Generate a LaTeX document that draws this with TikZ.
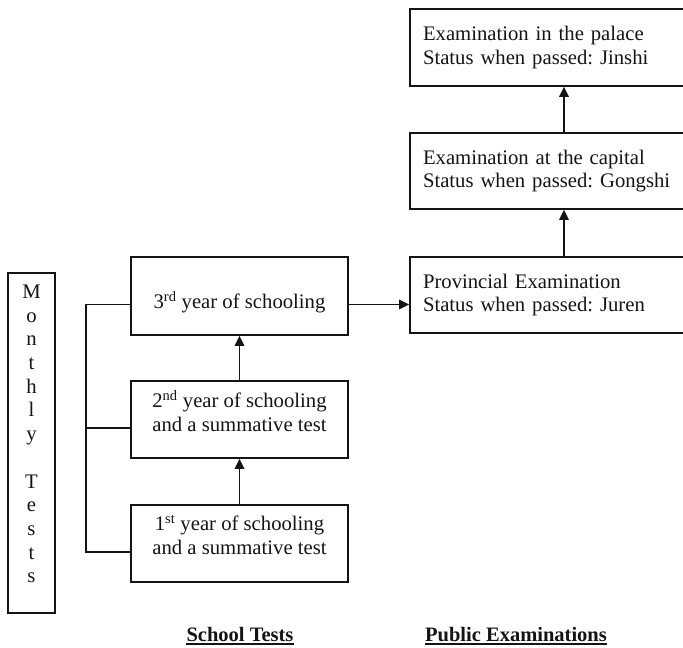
\documentclass[tikz,border=0pt]{standalone}
\usepackage{fontspec}
\setmainfont{Liberation Serif}
\usetikzlibrary{arrows.meta,calc}
\definecolor{ink}{HTML}{141414}
\frenchspacing
\begin{document}
\begin{tikzpicture}[x=1pt,y=-1pt,
  every node/.style={font=\fontsize{20.7}{23.5}\selectfont, text=ink},
  box/.style={draw=ink, line width=1.6pt, inner sep=0pt},
  sbox/.style={box, minimum width=217pt, minimum height=77pt, align=center},
  pbox/.style={box, minimum width=308pt, minimum height=77pt, text width=282pt, align=left},
  arr/.style={draw=ink, line width=1.7pt, -{Triangle[length=10pt,width=9.5pt]}},
  conn/.style={draw=ink, line width=1.6pt},
  lbl/.style={font=\fontsize{20.5}{23.5}\selectfont\bfseries, inner sep=0pt, anchor=base}]
\useasboundingbox (0,0) rectangle (683,648);
\clip (0,0) rectangle (683,648);

% Monthly tests
\node[box, minimum width=47pt, minimum height=340pt] (mt) at (31.5,443) {};
\node[align=center, inner sep=0pt, font=\fontsize{20.7}{23.7}\selectfont] (mtt) at (31.5,434)
  {M\\o\\n\\t\\h\\l\\y\\\mbox{}\\T\\e\\s\\t\\s};

% School tests
\node[sbox, minimum height=78pt] (b3) at (239.5,296) {\raisebox{-6pt}[\height][\depth]{3\textsuperscript{rd} year of schooling}};
\node[sbox] (b2) at (239.5,419.5) {2\textsuperscript{nd} year of schooling\\ and a summative test\\[-6pt]\mbox{}};
\node[sbox] (b1) at (239.5,543.5) {1\textsuperscript{st} year of schooling\\and a summative test\\[-6pt]\mbox{}};

% Public examinations
\node[pbox] (pal) at (564,47.5) {Examination in the palace\\Status when passed: Jinshi};
\node[pbox, minimum height=76pt] (cap) at (564,171) {Examination at the capital\\Status when passed: Gongshi};
\node[pbox, minimum height=76pt] (prov) at (564,295) {Provincial Examination\\Status when passed: Juren};

% bracket
\coordinate (bx) at (86,0);
\coordinate (l3) at ([yshift=-8.5pt]b3.west);
\coordinate (l2) at ([yshift=-8.5pt]b2.west);
\coordinate (l1) at ([yshift=-8.5pt]b1.west);
\draw[conn] (l3) -- (l3 -| bx) -- (l1 -| bx) -- (l1);
\draw[conn] (l2) -- (l2 -| bx);

% arrows
\draw[arr] (b1.north) -- (b2.south);
\draw[arr] (b2.north) -- (b3.south);
\coordinate (a1) at ([yshift=-8.5pt]b3.east);
\draw[arr] (a1) -- (a1 -| prov.west);
\draw[arr] (prov.north) -- (cap.south);
\draw[arr] (cap.north) -- (pal.south);

% labels
\node[lbl] (st) at (240,641) {School Tests};
\node[lbl] (pe) at (516,641) {Public Examinations};
\draw[ink, line width=1.9pt] ([yshift=-2.8pt]st.base west) -- ([yshift=-2.8pt]st.base east);
\draw[ink, line width=1.9pt] ([yshift=-2.8pt]pe.base west) -- ([yshift=-2.8pt]pe.base east);
\end{tikzpicture}
\end{document}
